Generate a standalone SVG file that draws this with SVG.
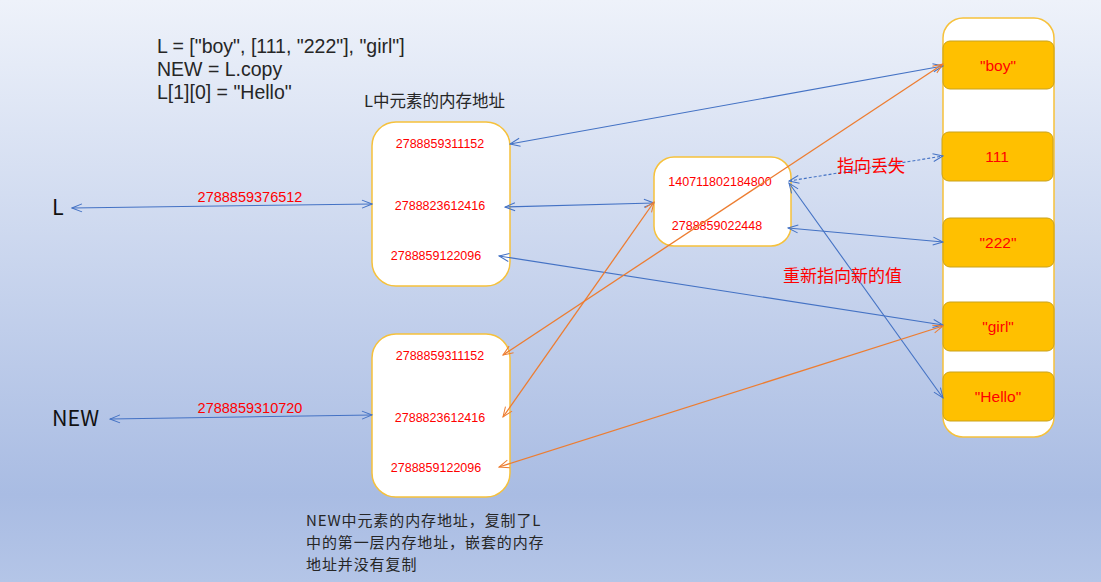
<svg xmlns="http://www.w3.org/2000/svg" width="1101" height="582" viewBox="0 0 1101 582">
<defs>
<linearGradient id="bg" x1="0" y1="0" x2="0" y2="1">
<stop offset="0" stop-color="#eef2fa"/>
<stop offset="0.85" stop-color="#a9bce3"/>
<stop offset="1" stop-color="#b4c5e7"/>
</linearGradient>
<marker id="ab" viewBox="0 0 12 10" markerWidth="12" markerHeight="10" refX="11" refY="5" orient="auto-start-reverse" markerUnits="userSpaceOnUse">
<path d="M1,1 L11,5 L1,9" fill="none" stroke="#4472c4" stroke-width="1"/>
</marker>
<marker id="ao" viewBox="0 0 12 10" markerWidth="12" markerHeight="10" refX="11" refY="5" orient="auto-start-reverse" markerUnits="userSpaceOnUse">
<path d="M1,1 L11,5 L1,9" fill="none" stroke="#ed7d31" stroke-width="1"/>
</marker>
</defs>
<style>
.box{fill:#fff;stroke:#f6c13b;stroke-width:1.5}
.val{fill:#ffc000;stroke:#c9a21c;stroke-width:1}
.num{font-family:"Liberation Sans",Arial,sans-serif;font-size:12.5px;fill:#ff0000;text-anchor:middle}
.lab{font-family:"Liberation Sans",Arial,sans-serif;font-size:14.5px;fill:#ff0000;text-anchor:middle}
.vtxt{font-family:"Liberation Sans",Arial,sans-serif;font-size:15.5px;fill:#ff0000;text-anchor:middle}
.code{font-family:"Liberation Sans","Noto Sans CJK SC",sans-serif;font-size:19.5px;fill:#262626}
.cn{font-family:"Noto Sans CJK SC",sans-serif;font-size:16.5px;fill:#262626}
.note{font-family:"Noto Sans CJK SC",sans-serif;font-size:15px;letter-spacing:0.9px;fill:#262626}
.big{font-family:"Noto Sans CJK SC","Liberation Sans",sans-serif;font-size:21.5px;fill:#111}
.red{font-family:"Noto Sans CJK SC",sans-serif;font-size:17px;fill:#ff0000}
.b{stroke:#4472c4;stroke-width:1.1;fill:none;marker-start:url(#ab);marker-end:url(#ab)}
.o{stroke:#ed7d31;stroke-width:1.3;fill:none;marker-start:url(#ao);marker-end:url(#ao)}
</style>
<rect width="1101" height="582" fill="url(#bg)"/>

<g id="code">
<text class="code" x="157" y="53">L = ["boy", [111, "222"], "girl"]</text>
<text class="code" x="157" y="76">NEW = L.copy</text>
<text class="code" x="157" y="99">L[1][0] = "Hello"</text>
</g>

<g id="varL"><text class="big" x="52" y="215">L</text></g>
<g id="varNEW"><text class="big" x="52" y="426">NEW</text></g>

<g id="boxL">
<rect class="box" x="372" y="122" width="138" height="164" rx="24"/>
<text class="num" x="440" y="148">2788859311152</text>
<text class="num" x="440" y="210">2788823612416</text>
<text class="num" x="436" y="260">2788859122096</text>
</g>
<text class="cn" x="364" y="107">L中元素的内存地址</text>

<g id="boxNEW">
<rect class="box" x="372" y="334" width="138" height="163" rx="24"/>
<text class="num" x="440" y="360">2788859311152</text>
<text class="num" x="440" y="422">2788823612416</text>
<text class="num" x="436" y="472">2788859122096</text>
</g>
<g id="noteNEW">
<text class="note" x="306" y="526">NEW中元素的内存地址，复制了L</text>
<text class="note" x="306" y="548">中的第一层内存地址，嵌套的内存</text>
<text class="note" x="306" y="570">地址并没有复制</text>
</g>

<g id="boxInner">
<rect class="box" x="654" y="157" width="137" height="89" rx="20"/>
<text class="num" x="720" y="186">140711802184800</text>
<text class="num" x="717" y="230">2788859022448</text>
</g>

<g id="heap">
<rect class="box" x="943" y="18" width="111" height="419" rx="20"/>
</g>
<g id="vBoy"><rect class="val" x="943" y="41" width="111" height="48" rx="7"/><text class="vtxt" x="998" y="71">"boy"</text></g>
<g id="v111"><rect class="val" x="942" y="132" width="111" height="49" rx="7"/><text class="vtxt" x="997" y="162">111</text></g>
<g id="v222"><rect class="val" x="943" y="218" width="111" height="49" rx="7"/><text class="vtxt" x="998" y="248">"222"</text></g>
<g id="vGirl"><rect class="val" x="943" y="302" width="111" height="49" rx="7"/><text class="vtxt" x="998" y="332">"girl"</text></g>
<g id="vHello"><rect class="val" x="943" y="372" width="111" height="49" rx="7"/><text class="vtxt" x="998" y="402">"Hello"</text></g>

<g id="connectors">
<line class="b" x1="72" y1="208" x2="372" y2="204"/>
<line class="b" x1="110" y1="419" x2="372" y2="415"/>
<line class="b" x1="510" y1="144" x2="943" y2="66"/>
<line class="b" x1="505" y1="207" x2="654" y2="203"/>
<line class="b" x1="499" y1="256" x2="943" y2="325"/>
<line class="b" x1="789" y1="181" x2="943" y2="156" stroke-dasharray="3,2"/>
<line class="b" x1="789" y1="183" x2="943" y2="398"/>
<line class="b" x1="788" y1="228" x2="943" y2="242"/>
<line class="o" x1="503" y1="355" x2="943" y2="64"/>
<line class="o" x1="503" y1="417" x2="654" y2="202"/>
<line class="o" x1="499" y1="467" x2="943" y2="326"/>
<text class="lab" x="250" y="202">2788859376512</text>
<text class="lab" x="250" y="413">2788859310720</text>
<text class="red" x="837" y="172">指向丢失</text>
<text class="red" x="783" y="282">重新指向新的值</text>
</g>
</svg>
